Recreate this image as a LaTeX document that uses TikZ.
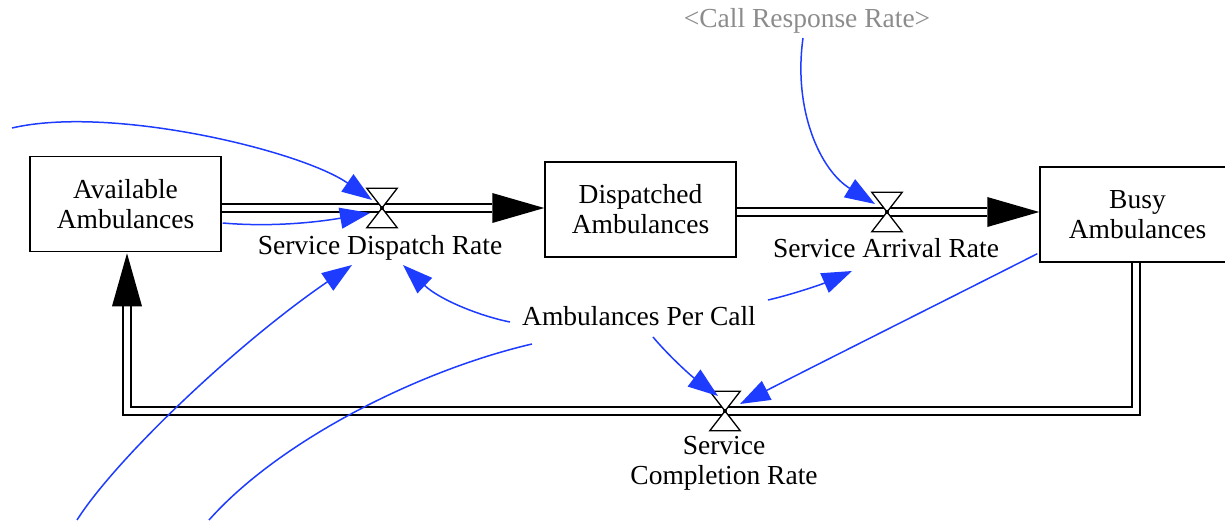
\documentclass[tikz,border=0pt]{standalone}
\usepackage{fontspec}
\setmainfont{Liberation Serif}
\usetikzlibrary{arrows.meta,calc}
\definecolor{lnkblue}{RGB}{30,60,255}
\definecolor{ghost}{RGB}{140,140,140}
\begin{document}
\begin{tikzpicture}[x=1pt,y=-1pt,
  font=\fontsize{27.5}{30}\selectfont,
  stock/.style={draw, line width=1.5pt, fill=white, align=center, minimum width=191pt, minimum height=95pt, inner sep=0pt},
  lbl/.style={anchor=base, inner sep=0pt},
  valve/.style={inner sep=0pt, minimum width=30pt, minimum height=39pt},
  valvedraw/.style={draw, fill=white, line width=1.3pt, line join=miter},
  pipe/.style={double=white, double distance=6.8pt, line width=1.6pt},
  link/.style={draw=lnkblue, line width=1.5pt, -{Triangle[length=30pt,width=21pt]}},
  linkplain/.style={draw=lnkblue, line width=1.5pt}]
\useasboundingbox (0,0) rectangle (1225,520);
% valves (positions)
\node[valve] (v1) at (382,208) {};
\node[valve] (v2) at (887,212) {};
\node[valve] (v3) at (725,411) {};
% stocks
\node[stock] (avail) at (125.5,204) {Available\\Ambulances};
\node[stock] (disp) at (640.5,209.5) {Dispatched\\Ambulances};
\node[stock, minimum width=195pt] (busy) at (1137.5,214.5) {Busy\\Ambulances};
% pipes
\draw[pipe] (avail.east |- v1) -- ($(disp.west |- v1)+(-52,0)$);
\fill (disp.west |- v1) -- ++(-52,-15) -- ++(0,30) -- cycle;
\draw[pipe] (disp.east |- v2) -- ($(busy.west |- v2)+(-52,0)$);
\fill (busy.west |- v2) -- ++(-52,-15) -- ++(0,30) -- cycle;
\draw[pipe] ($(busy.south)+(-1.5,0)$) |- (v3.center) -| ($(avail.south)+(1.5,54)$);
\fill ($(avail.south)+(1.5,1)$) -- ++(-15,53) -- ++(30,0) -- cycle;
% valve glyphs
\foreach \v in {v1,v2,v3}{
  \draw[valvedraw] (\v.north west) -- (\v.north east) -- (\v.south west) -- (\v.south east) -- cycle;
  \fill (\v) circle (2);
}
% labels
\node[lbl] (sdr) at (380,254) {Service Dispatch Rate};
\node[lbl] (sar) at (886,257) {Service Arrival Rate};
\node[lbl] (apc) at (639,325) {Ambulances Per Call};
\node[inner sep=0pt, anchor=north, align=center] (scr) at (724,436) {Service\\Completion Rate};
\node[lbl, text=ghost] (crr) at (807,27) {<Call Response Rate>};
% free ends
\coordinate (lin) at (12,128);
\coordinate (lb1) at (77,520);
\coordinate (lb2) at (209,520);
% links
\draw[link] (lin) .. controls (110,105) and (300,150) .. ($(v1)+(-10,-8)$);
\draw[link] ($(avail.east)+(1,19)$) .. controls (280,228) and (330,220) .. ($(v1)+(-12,5)$);
\draw[link] (lb1) .. controls (115,460) and (235,345) .. ($(sdr.base)+(-28,11)$);
\draw[linkplain] ($(apc.base)+(-107,19)$) .. controls (420,370) and (280,440) .. (lb2);
\draw[link] ($(apc.base)+(-129,-3)$) .. controls (480,316) and (440,300) .. ($(sdr.base)+(23,11)$);
\draw[link] ($(apc.base)+(129,-25)$) .. controls (790,295) and (820,285) .. ($(sar.base)+(-34,14)$);
\draw[link] ($(apc.base)+(14,12)$) .. controls (668,355) and (690,375) .. ($(v3)+(-7,-15)$);
\draw[link] ($(busy.south west)+(-2,-9)$) .. controls (940,303) and (840,353) .. ($(v3)+(15,-7)$);
\draw[link] ($(crr.base)+(-4,11)$) .. controls (793,110) and (820,170) .. ($(v2)+(-12,-8)$);
\end{tikzpicture}
\end{document}
